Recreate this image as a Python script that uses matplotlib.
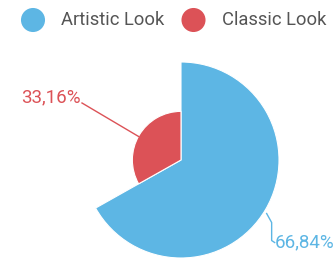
import numpy as np
import matplotlib
matplotlib.use('Agg')
import matplotlib.pyplot as plt
from matplotlib.patches import Wedge

# data
labels = ['Artistic Look', 'Classic Look']
values = [66.84, 33.16]
colors = ['#5db6e4', '#dc5257']
value_text = ['66,84%', '33,16%']

plt.rcParams['font.family'] = ['Roboto', 'DejaVu Sans']

W, H = 333, 261
fig = plt.figure(figsize=(W / 100, H / 100), dpi=100)
ax = fig.add_axes([0, 0, 1, 1])
ax.set_xlim(0, W)
ax.set_ylim(0, H)
ax.axis('off')

# pie center / max radius in pixels (y up)
cx, cy = 181, H - 160
r_max = 98

total = sum(values)
start = 90
vmax = max(values)
wedges = []
for v, c in zip(values, colors):
    sweep = 360 * v / total
    r = r_max * v / vmax
    w = Wedge((cx, cy), r, start - sweep, start, facecolor=c,
              edgecolor='white', linewidth=0.8)
    ax.add_patch(w)
    wedges.append((start - sweep, start, r))
    start -= sweep

# labels with leader lines
# Artistic
t1, t2, r = wedges[0]
ang = np.deg2rad(-32)
px, py = cx + (r + 3) * np.cos(ang), cy + (r + 3) * np.sin(ang)
ax.plot([px, px + 5, px + 5, px + 8], [py, py - 9, py - 27, py - 29],
        color=colors[0], lw=1)
ax.text(px + 8, py - 29, value_text[0], color=colors[0], fontsize=13.5,
        ha='left', va='center')

# Classic
t1, t2, r = wedges[1]
ang = np.deg2rad(151)
px, py = cx + r * np.cos(ang), cy + r * np.sin(ang)
ax.plot([px, 82], [py, H - 103], color=colors[1], lw=1)
ax.text(81, H - 97, value_text[1], color=colors[1], fontsize=13.5,
        ha='right', va='center')

# legend
leg_x = [33, 193.5]
for x, lab, c in zip(leg_x, labels, colors):
    ax.scatter([x], [H - 20], s=300, color=c, edgecolors='none')
    ax.text(x + 28, H - 20, lab, color='#555555', fontsize=13.2,
            ha='left', va='center')

fig.savefig('out.png', dpi=100)
